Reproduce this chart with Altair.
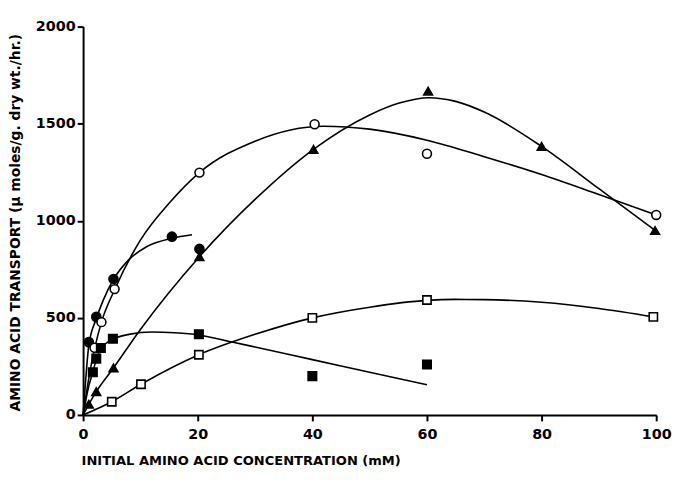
import altair as alt
import pandas as pd

# ---- data ----
series_names = ["filled_circle", "open_circle", "filled_triangle", "filled_square", "open_square"]

# markers
fc_x = [1, 2.3, 5.3, 15.5, 20.3]
fc_y = [375, 505, 700, 918, 855]
oc_x = [2, 3.2, 5.5, 20.3, 40.4, 60, 100]
oc_y = [346, 478, 648, 1248, 1497, 1345, 1030]
ft_x = [1, 2.3, 5.3, 20.3, 40.2, 60.2, 80, 99.8]
ft_y = [55, 120, 242, 815, 1368, 1668, 1383, 950]
fs_x = [1.7, 2.3, 3.1, 5.2, 20.2, 40, 60]
fs_y = [220, 290, 345, 392, 416, 200, 260]
os_x = [5, 10.1, 20.2, 40, 60, 99.5]
os_y = [68, 158, 310, 500, 592, 505]

# hand-drawn fitted curves
fc_cx = [0, 0.5, 1, 2.3, 3.5, 5.3, 8, 11, 15.5, 19]
fc_cy = [0, 200, 360, 495, 590, 698, 800, 865, 910, 928]
oc_cx = [0, 1, 2, 3.2, 5.5, 10, 15, 20.3, 30, 42, 50, 60, 70, 80, 90, 100]
oc_cy = [0, 190, 340, 478, 645, 900, 1090, 1248, 1410, 1487, 1472, 1415, 1330, 1238, 1135, 1030]
ft_cx = [0, 1, 2.3, 5.3, 10, 20.3, 30, 40.2, 50, 55, 60.3, 65, 70, 80, 90, 99.8]
ft_cy = [0, 55, 120, 242, 440, 815, 1110, 1368, 1545, 1605, 1634, 1615, 1560, 1383, 1165, 950]
fs_cx = [0, 1, 1.7, 2.3, 3.1, 5.2, 8, 12, 16, 20.2, 25.8, 30, 40, 50, 60]
fs_cy = [0, 150, 220, 285, 340, 390, 415, 427, 423, 412, 377, 350, 285, 220, 155]
os_cx = [0, 5, 10.1, 20.2, 30, 40, 50, 60, 65, 70, 80, 90, 99.5]
os_cy = [0, 68, 158, 310, 415, 500, 555, 590, 595, 594, 580, 548, 505]

x_ticks = [0, 20, 40, 60, 80, 100]
y_ticks = [0, 500, 1000, 1500, 2000]

x_title = "INITIAL AMINO ACID CONCENTRATION (mM)"
y_title = "AMINO ACID TRANSPORT (\u00b5 moles/g. dry wt./hr.)"

marker_sets = [(fc_x, fc_y), (oc_x, oc_y), (ft_x, ft_y), (fs_x, fs_y), (os_x, os_y)]
curve_sets = [(fc_cx, fc_cy), (oc_cx, oc_cy), (ft_cx, ft_cy), (fs_cx, fs_cy), (os_cx, os_cy)]

pts = pd.DataFrame([
    {"series": s, "x": x, "y": y}
    for s, (xs, ys) in zip(series_names, marker_sets)
    for x, y in zip(xs, ys)
])
crv = pd.DataFrame([
    {"series": s, "x": x, "y": y, "order": i}
    for s, (xs, ys) in zip(series_names, curve_sets)
    for i, (x, y) in enumerate(zip(xs, ys))
])

font = "DejaVu Sans"

xscale = alt.Scale(domain=[0, 100], nice=False, zero=False)
yscale = alt.Scale(domain=[0, 2000], nice=False)

xaxis = alt.Axis(values=x_ticks, title=x_title, titleX=-2, titleY=46,
                 titleAlign="left", titleBaseline="middle", titleAnchor="start",
                 titleFontSize=13.2,
                 labelPadding=7, labelFlush=False, format="d")
yaxis = alt.Axis(values=y_ticks, title=y_title, titleX=-68, titleY=198,
                 titleAngle=270, titleAlign="center", titleBaseline="middle",
                 titleFontSize=14,
                 labelPadding=2, format="d")

lines = alt.Chart(crv).mark_line(color="black", strokeWidth=1.6, interpolate="monotone").encode(
    x=alt.X("x:Q", scale=xscale, axis=xaxis),
    y=alt.Y("y:Q", scale=yscale, axis=yaxis),
    detail="series:N",
    order="order:Q",
)

points = alt.Chart(pts).mark_point(stroke="black", strokeWidth=1.6, opacity=1, filled=False).encode(
    x=alt.X("x:Q", scale=xscale),
    y=alt.Y("y:Q", scale=yscale),
    shape=alt.Shape("series:N", legend=None,
                    scale=alt.Scale(domain=series_names,
                                    range=["circle", "circle", "triangle-up", "square", "square"])),
    fill=alt.Fill("series:N", legend=None,
                  scale=alt.Scale(domain=series_names,
                                  range=["black", "white", "black", "black", "white"])),
    size=alt.Size("series:N", legend=None,
                  scale=alt.Scale(domain=series_names, range=[85, 70, 75, 75, 65])),
)

chart = alt.layer(lines, points).properties(
    width=580, height=393,
    autosize=alt.AutoSizeParams(type="none"),
    padding={"left": 76, "top": 16, "right": 18, "bottom": 62},
    background="white",
).configure_view(stroke=None).configure_axis(
    grid=False, domainColor="black", domainWidth=2, tickColor="black", tickWidth=2,
    tickSize=6, labelColor="black", labelFont=font, labelFontSize=14.5, labelFontWeight="bold",
    titleColor="black", titleFont=font, titleFontWeight="bold",
)

chart.save("out.html", embed_options={"renderer": "svg", "actions": False})
